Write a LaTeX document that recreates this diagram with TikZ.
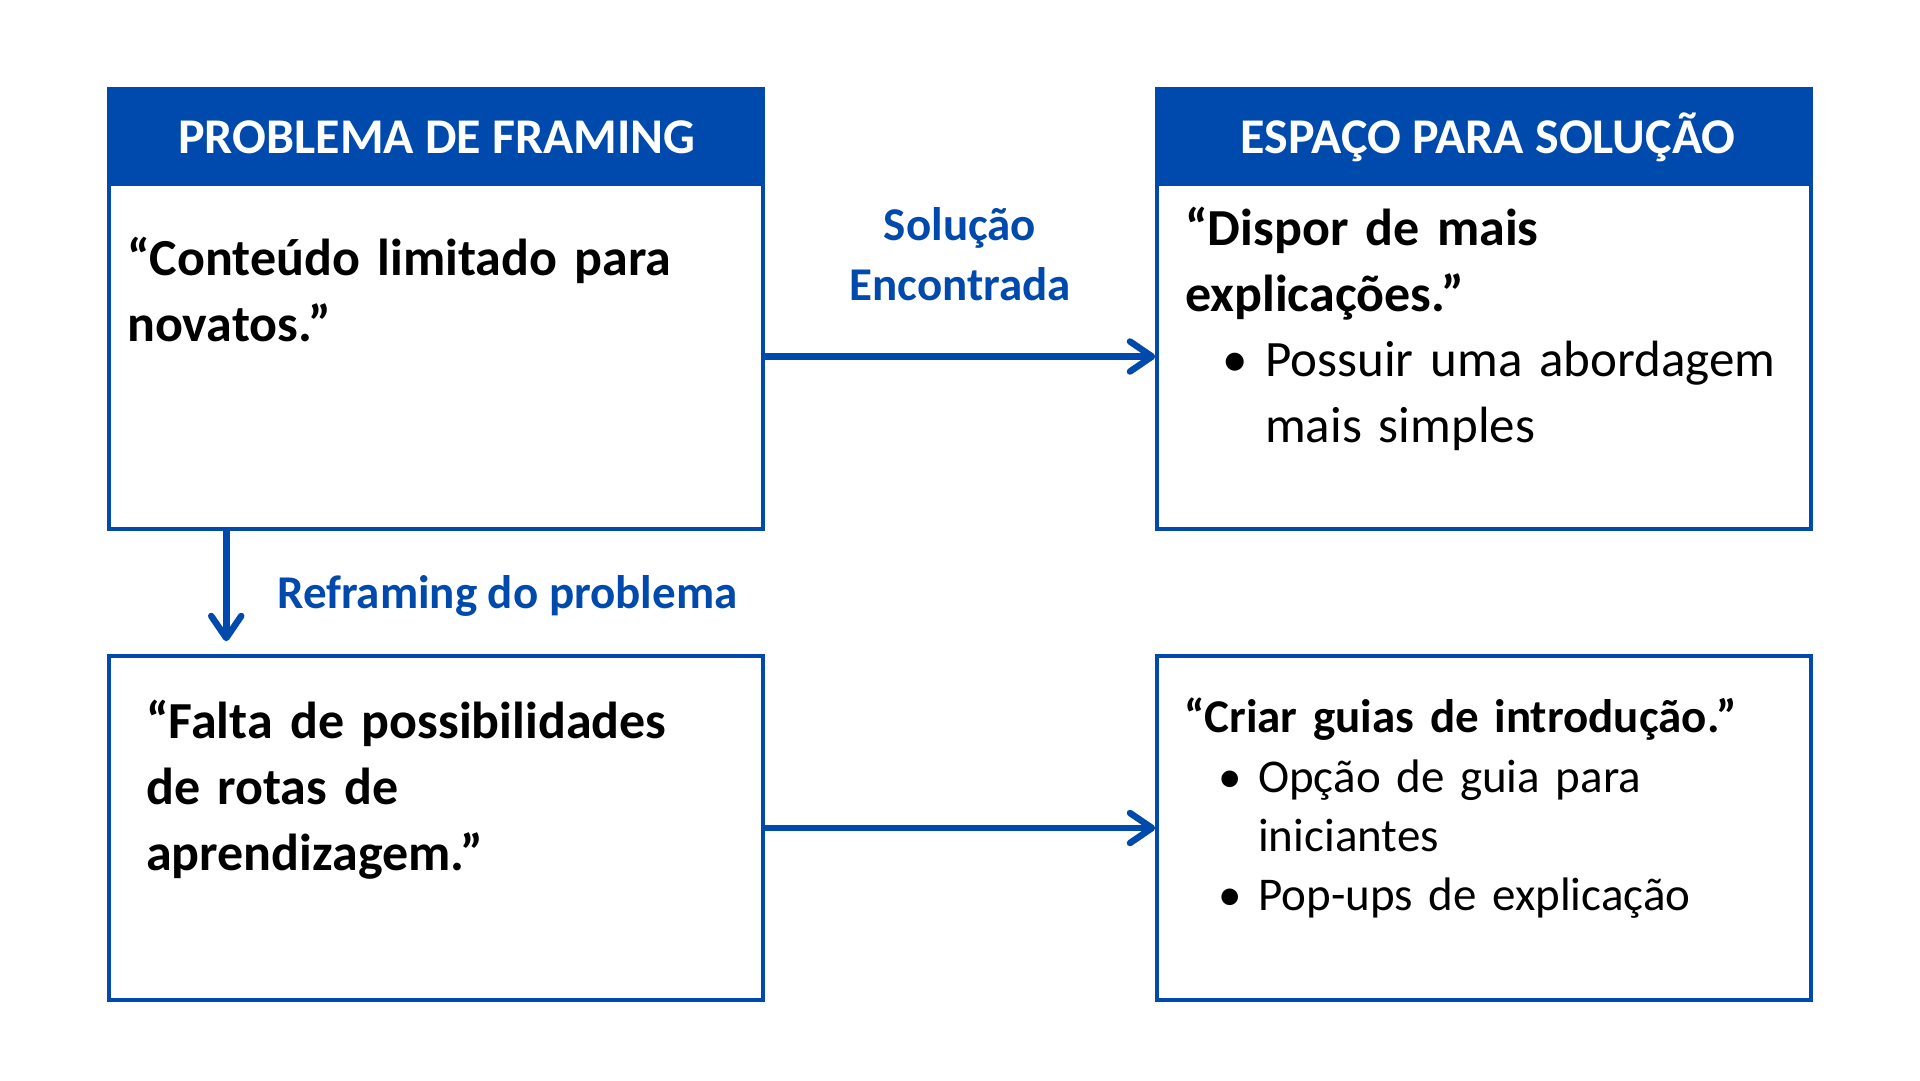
\documentclass[tikz,border=0pt]{standalone}
\usepackage{fontspec}
\setmainfont{Carlito}
\usetikzlibrary{arrows.meta,calc}
\definecolor{cblue}{HTML}{004AAD}
\tikzset{
  hdr/.style={rectangle, fill=cblue, draw=cblue, line width=3.5pt, inner sep=0pt},
  boxx/.style={rectangle, draw=cblue, line width=3.5pt, fill=white, inner sep=0pt},
  htext/.style={text=white, font=\bfseries\fontsize{50}{56}\selectfont, inner sep=0pt, anchor=base},
  btext/.style={inner sep=0pt, anchor=base west, align=left, text width=700pt, font=\bfseries\fontsize{52}{66}\selectfont},
  ltext/.style={inner sep=0pt, anchor=base west, align=left, text width=700pt, font=\fontsize{51}{66}\selectfont},
  lbl/.style={inner sep=0pt, text=cblue, font=\bfseries\fontsize{47}{60}\selectfont},
  arr/.style={draw=cblue, line width=6.5pt, -{Straight Barb[length=22pt,width=30pt,line cap=round,line join=round]}}
}
\begin{document}
\begin{tikzpicture}[x=1pt,y=-1pt]
\useasboundingbox[fill=white] (0,0) rectangle (1920,1080);
% boxes
\node[hdr, minimum width=654pt, minimum height=95pt] (h1) at (436,136.5) {};
\node[hdr, minimum width=654pt, minimum height=95pt] (h2) at (1484,136.5) {};
\node[boxx, minimum width=654pt, minimum height=345pt] (b1) at (436,356.5) {};
\node[boxx, minimum width=654pt, minimum height=345pt] (b2) at (1484,356.5) {};
\node[boxx, minimum width=654pt, minimum height=344pt] (b3) at (436,828) {};
\node[boxx, minimum width=654pt, minimum height=344pt] (b4) at (1484,828) {};
% headers
\node[htext] (h1t) at (437,153) {PROBLEMA DE FRAMING};
\node[htext] (h2t) at (1488,153) {ESPAÇO PARA SOLUÇÃO};
% texts
\node[btext] (t1) at (127,275) {“Conteúdo limitado para\\novatos.”};
\node[btext] (t2) at (1185,245) {“Dispor de mais\\explicações.”};
\node[ltext] (t2b) at (1222,376) {\makebox[43pt][l]{\textbullet}Possuir uma abordagem\\\hspace*{43pt}mais simples};
\node[btext] (t3) at (146,738) {“Falta de possibilidades\\de rotas de\\aprendizagem.”};
\node[btext, font=\bfseries\fontsize{47}{59}\selectfont] (t4) at (1184,732) {“Criar guias de introdução.”};
\node[ltext, font=\fontsize{47}{59}\selectfont] (t4b) at (1218,792) {\makebox[40pt][l]{\textbullet}Opção de guia para\\\hspace*{40pt}iniciantes\\\makebox[40pt][l]{\textbullet}Pop-ups de explicação};
% labels
\node[lbl, align=center, anchor=base] (l1) at (960,300) {Solução\\Encontrada};
\node[lbl, anchor=base west] (l2) at (277,608) {Reframing do problema};
% connectors
\draw[arr] (b1.east) -- (b2.west);
\draw[arr] (b3.east) -- (b4.west);
\draw[arr] ($(b1.south west)+(119,0)$) -- ($(b3.north west)+(119,-13)$);
\end{tikzpicture}
\end{document}
